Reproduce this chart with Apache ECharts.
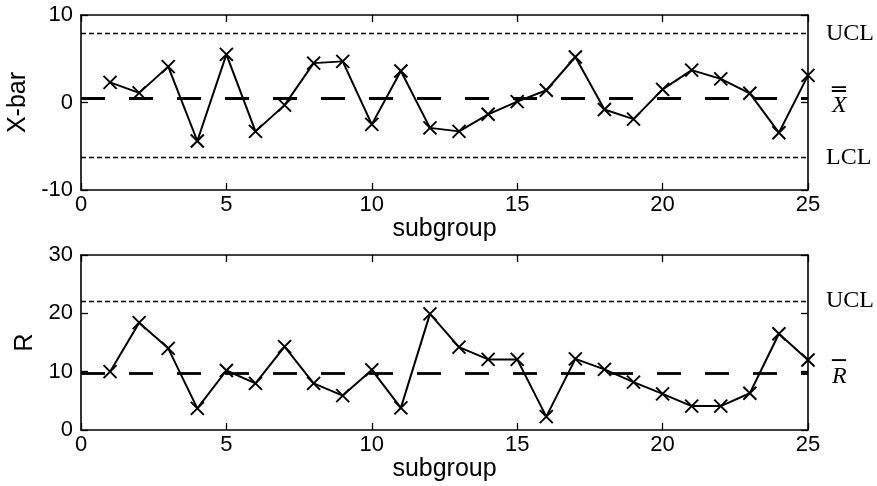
<!DOCTYPE html>
<html>
<head>
<meta charset="utf-8">
<script src="https://cdn.jsdelivr.net/npm/echarts@6/dist/echarts.min.js"></script>
<style>
  html, body { margin: 0; padding: 0; background: #fff; }
  #chart { width: 877px; height: 486px; }
</style>
</head>
<body>
<div id="chart"></div>
<script>
// subgroup numbers (x axis)
var subgroups = [1, 2, 3, 4, 5, 6, 7, 8, 9, 10, 11, 12, 13, 14, 15, 16, 17, 18, 19, 20, 21, 22, 23, 24, 25];
// subgroup means
var xbarValues = [2.3, 1.1, 4.1, -4.4, 5.5, -3.3, -0.3, 4.5, 4.7, -2.5, 3.6, -2.9, -3.3, -1.35, 0.1, 1.4, 5.2, -0.8, -1.9, 1.5, 3.7, 2.7, 1.05, -3.45, 3.1];
// subgroup ranges
var rangeValues = [10.0, 18.4, 14.0, 3.7, 10.2, 8.0, 14.3, 8.0, 5.9, 10.3, 3.8, 19.9, 14.2, 12.1, 12.1, 2.3, 12.2, 10.4, 8.2, 6.2, 4.1, 4.1, 6.3, 16.5, 12.0];
// control limits
var xbarUCL = 7.9;
var xbarCenter = 0.5;
var xbarLCL = -6.3;
var rUCL = 22.1;
var rCenter = 9.8;
// axis ticks
var xTicks = { min: 0, max: 25, interval: 5 };
var xbarTicks = { min: -10, max: 10, interval: 10 };
var rTicks = { min: 0, max: 30, interval: 10 };

var black = "#000";
var sans = "Liberation Sans";
var serif = "Liberation Serif";

function pairs(xs, ys) {
  return xs.map(function (x, i) { return [x, ys[i]]; });
}

function xAxisPair(grid) {
  var common = {
    type: "value",
    gridIndex: grid,
    min: xTicks.min,
    max: xTicks.max,
    interval: xTicks.interval,
    splitLine: { show: false },
    axisLine: { show: true, onZero: false, lineStyle: { color: black, width: 1.6 } },
    axisTick: { inside: true, length: 7, lineStyle: { color: black, width: 1.3 } },
  };
  return [
    Object.assign({}, common, {
      position: "bottom",
      axisLabel: { color: black, fontFamily: sans, fontSize: 22, margin: 4 },
      name: "subgroup",
      nameLocation: "middle",
      nameGap: 26,
      nameTextStyle: { color: black, fontFamily: sans, fontSize: 25 },
    }),
    Object.assign({}, common, { position: "top", axisLabel: { show: false } }),
  ];
}

function yAxisPair(grid, ticks, name) {
  var common = {
    type: "value",
    gridIndex: grid,
    min: ticks.min,
    max: ticks.max,
    interval: ticks.interval,
    splitLine: { show: false },
    axisLine: { show: true, onZero: false, lineStyle: { color: black, width: 1.6 } },
    axisTick: { inside: true, length: 7, lineStyle: { color: black, width: 1.3 } },
  };
  return [
    Object.assign({}, common, {
      position: "left",
      axisLabel: { color: black, fontFamily: sans, fontSize: 22, margin: 8 },
      name: name,
      nameLocation: "middle",
      nameRotate: 90,
      nameGap: 40,
      nameTextStyle: { color: black, fontFamily: sans, fontSize: 25 },
    }),
    Object.assign({}, common, { position: "right", axisLabel: { show: false } }),
  ];
}

var limitLabel = {
  show: true,
  position: "end",
  distance: 18,
  color: black,
  fontFamily: serif,
  fontSize: 24,
};
var limitLine = { color: black, type: [5, 3], width: 1.3 };
var centerLine = { color: black, type: [24, 24], width: 2.8 };

function barLabel(bar, letter, padTop) {
  return Object.assign({}, limitLabel, {
    formatter: "{o|" + bar + "}\n{x|" + letter + "}",
    padding: [padTop, 0, 0, 6],
    rich: {
      o: { fontFamily: "DejaVu Sans Mono", fontSize: 23, lineHeight: 8, color: black },
      x: { fontFamily: serif, fontStyle: "italic", fontSize: 24, lineHeight: 22, color: black },
    },
  });
}

function controlSeries(xIdx, yIdx, values, lines) {
  return {
    type: "line",
    xAxisIndex: xIdx,
    yAxisIndex: yIdx,
    data: pairs(subgroups, values),
    symbol: "path://M0,0L10,10M10,0L0,10",
    symbolSize: 13,
    showSymbol: true,
    lineStyle: { color: black, width: 2 },
    itemStyle: { color: black, borderColor: black, borderWidth: 2 },
    emphasis: { disabled: true },
    markLine: {
      silent: true,
      symbol: ["none", "none"],
      animation: false,
      data: lines,
    },
  };
}

var chart = echarts.init(document.getElementById("chart"));
var option = {
  animation: false,
  backgroundColor: "#fff",
  grid: [
    { left: 81, top: 15, width: 727, height: 175, outerBoundsMode: "none" },
    { left: 81, top: 255, width: 727, height: 175, outerBoundsMode: "none" },
  ],
  xAxis: xAxisPair(0).concat(xAxisPair(1)),
  yAxis: yAxisPair(0, xbarTicks, "X-bar").concat(yAxisPair(1, rTicks, "R")),
  series: [
    controlSeries(0, 0, xbarValues, [
      { yAxis: xbarUCL, lineStyle: limitLine, label: Object.assign({}, limitLabel, { formatter: "UCL" }) },
      { yAxis: xbarCenter, lineStyle: centerLine, label: barLabel("═", "X", 8) },
      { yAxis: xbarLCL, lineStyle: limitLine, label: Object.assign({}, limitLabel, { formatter: "LCL" }) },
    ]),
    controlSeries(2, 2, rangeValues, [
      { yAxis: rUCL, lineStyle: limitLine, label: Object.assign({}, limitLabel, { formatter: "UCL" }) },
      { yAxis: rCenter, lineStyle: centerLine, label: barLabel("─", "R", 0) },
    ]),
  ],
};
chart.setOption(option);
</script>
</body>
</html>
